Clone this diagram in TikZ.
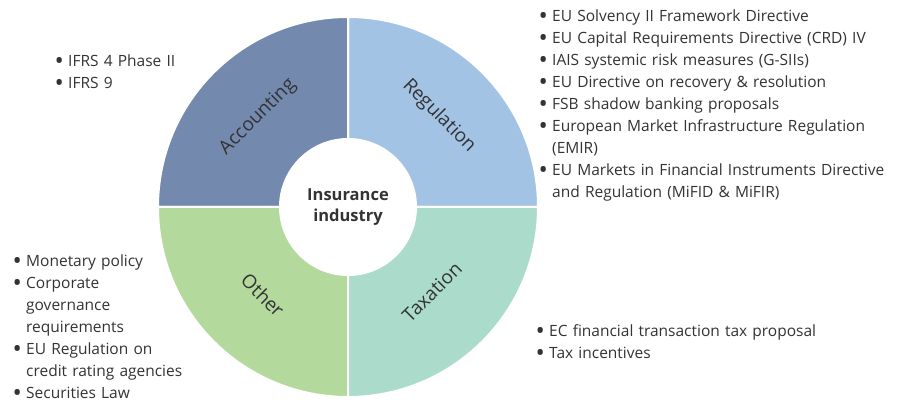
\documentclass[tikz,border=0pt]{standalone}
\usepackage{fontspec}
\setmainfont{Open Sans}

\definecolor{acccol}{HTML}{7489AE}
\definecolor{regcol}{HTML}{A3C3E5}
\definecolor{taxcol}{HTML}{ABDCCB}
\definecolor{othcol}{HTML}{B3D99C}
\definecolor{txtcol}{HTML}{333333}

\newcommand{\bitem}[1]{\hangindent=11pt\hangafter=1\noindent
  \makebox[11pt][l]{\hspace*{-2.5pt}\raisebox{-2.8pt}{\scalebox{1.6}{\textbullet}}}#1\par}

\tikzset{
  listtext/.style={anchor=base west, inner sep=0pt, align=left,
    text width=#1, text=txtcol,
    font=\fontsize{15.5}{22}\selectfont},
  quadlabel/.style={text=txtcol, font=\fontsize{19}{22}\selectfont}
}

\begin{document}
\begin{tikzpicture}[x=1pt, y=1pt]
    \useasboundingbox (0,0) rectangle (918,403);

    % the four quarters of the ring
    \coordinate (c) at (348,196);
    \foreach \a/\col in {0/regcol, 90/acccol, 180/othcol, 270/taxcol}
      \filldraw [fill=\col, draw=white, line width=2pt]
        (c) -- ++(\a:190pt) arc [start angle=\a, delta angle=90, radius=190pt] -- cycle;

    \fill [white] (c) circle (69pt);
    \node (core) at (c) [align=center, text=txtcol,
      font=\fontsize{16.5}{21.5}\selectfont\bfseries] {Insurance\\industry};

    \node (acc) at (258,286) [quadlabel, rotate=45] {Accounting};
    \node (reg) at (439,287) [quadlabel, rotate=-45] {Regulation};
    \node (oth) at (263,108) [quadlabel, rotate=-45] {Other};
    \node (tax) at (432,111) [quadlabel, rotate=45] {Taxation};

    \node (acclist) at (57,336) [listtext=150pt] {%
      \bitem{IFRS 4 Phase II}
      \bitem{IFRS 9}};

    \node (reglist) at (541,381) [listtext=390pt] {%
      \bitem{EU Solvency II Framework Directive}
      \bitem{EU Capital Requirements Directive (CRD) IV}
      \bitem{IAIS systemic risk measures (G-SIIs)}
      \bitem{EU Directive on recovery \& resolution}
      \bitem{FSB shadow banking proposals}
      \bitem{European Market Infrastructure Regulation\newline (EMIR)}
      \bitem{EU Markets in Financial Instruments Directive\newline and Regulation (MiFID \& MiFIR)}};

    \node (othlist) at (15,136) [listtext=200pt] {%
      \bitem{Monetary policy}
      \bitem{Corporate\newline governance\newline requirements}
      \bitem{EU Regulation on\newline credit rating agencies}
      \bitem{Securities Law}};

    \node (taxlist) at (538,66) [listtext=340pt] {%
      \bitem{EC financial transaction tax proposal}
      \bitem{Tax incentives}};
\end{tikzpicture}
\end{document}
